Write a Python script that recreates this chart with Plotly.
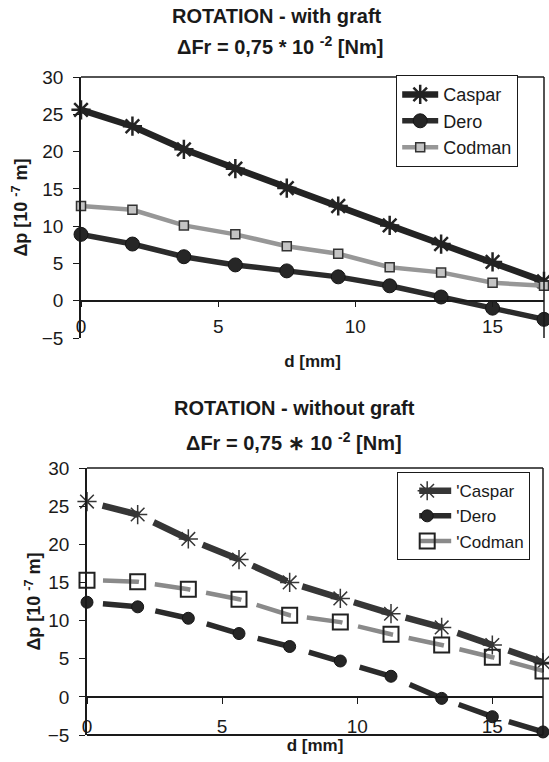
import plotly.graph_objects as go

# ---------------- data ----------------
d_mm = [0, 1.875, 3.75, 5.625, 7.5, 9.375, 11.25, 13.125, 15, 16.875]

with_caspar = [25.6, 23.4, 20.3, 17.7, 15.1, 12.7, 10.1, 7.6, 5.2, 2.6]
with_dero   = [8.9, 7.6, 5.9, 4.8, 4.0, 3.2, 2.0, 0.5, -1.0, -2.5]
with_codman = [12.7, 12.2, 10.1, 8.9, 7.3, 6.3, 4.5, 3.8, 2.4, 2.0]

without_caspar = [25.6, 23.9, 20.7, 18.0, 15.0, 12.9, 10.9, 9.1, 6.8, 4.5]
without_dero   = [12.4, 11.8, 10.3, 8.3, 6.6, 4.7, 2.7, -0.2, -2.6, -4.6]
without_codman = [15.3, 15.1, 14.1, 12.8, 10.7, 9.8, 8.2, 6.8, 5.2, 3.4]

series_names = ["Caspar", "Dero", "Codman"]
legend_names_bottom = ["'Caspar", "'Dero", "'Codman"]
y_ticks = [-5, 0, 5, 10, 15, 20, 25, 30]
x_ticks = [0, 5, 10, 15]
y_range = [-5, 30]
x_range = [0, 16.875]

titles_top = ["ROTATION - with graft", "\u0394Fr = 0,75 * 10 <sup>-2</sup> [Nm]"]
titles_bottom = ["ROTATION - without graft", "\u0394Fr = 0,75 \u2217 10 <sup>-2</sup> [Nm]"]
y_title = "\u0394p [10 <sup>-7</sup> m]"
x_title = "d [mm]"

# ---------------- layout geometry ----------------
W, H = 549, 762
FONT = "Liberation Sans, Arial, sans-serif"
INK = "#1a1a1a"

def px_x(p):
    return p / W

def px_y(p):
    return 1 - p / H

top_xdom = [px_x(81), px_x(544)]
top_ydom = [px_y(338), px_y(77)]
bot_xdom = [px_x(87), px_x(543)]
bot_ydom = [px_y(735), px_y(468)]

def zero_pos(dom):
    return dom[0] + (0 - y_range[0]) / (y_range[1] - y_range[0]) * (dom[1] - dom[0])

fig = go.Figure()

# ---- top chart (with graft) ----
style_top = [
    dict(line=dict(color="#232323", width=6.5),
         marker=dict(symbol="asterisk-open", size=16, line=dict(color="#151515", width=2.5))),
    dict(line=dict(color="#2b2b2b", width=5.5),
         marker=dict(symbol="circle", size=14, color="#262626", line=dict(color="#151515", width=1))),
    dict(line=dict(color="#979797", width=4.5),
         marker=dict(symbol="square", size=9, color="#c4c4c4", line=dict(color="#333333", width=1.5))),
]
for name, ys, st in zip(series_names, [with_caspar, with_dero, with_codman], style_top):
    fig.add_trace(go.Scatter(x=d_mm, y=ys, name=name, mode="lines+markers",
                             xaxis="x", yaxis="y", legend="legend", cliponaxis=False, **st))

# ---- bottom chart (without graft) ----
style_bot = [
    dict(line=dict(color="#363636", width=6.5, dash="0px,16px,38px,0px"),
         marker=dict(symbol="asterisk-open", size=16, line=dict(color="#222222", width=1.5))),
    dict(line=dict(color="#2b2b2b", width=5.5, dash="0px,16px,37px,0px"),
         marker=dict(symbol="circle", size=12, color="#262626", line=dict(color="#151515", width=1))),
    dict(line=dict(color="#8a8a8a", width=4.5, dash="0px,16px,36px,0px"),
         marker=dict(symbol="square-open", size=15, color="#222222", line=dict(color="#222222", width=2))),
]
for name, ys, st in zip(legend_names_bottom, [without_caspar, without_dero, without_codman], style_bot):
    fig.add_trace(go.Scatter(x=d_mm, y=ys, name=name, mode="lines+markers",
                             xaxis="x2", yaxis="y2", legend="legend2", cliponaxis=False, **st))

tickfont = dict(family=FONT, size=19, color=INK)
titlefont = dict(family=FONT, size=18, color=INK)

def xaxis_cfg(dom, ydom, label_standoff, standoff):
    return dict(domain=dom, range=x_range, tickvals=x_ticks, ticktext=[str(v) for v in x_ticks],
                anchor="free", position=zero_pos(ydom), automargin=False,
                showline=True, linecolor=INK, linewidth=1.5,
                ticks="outside", ticklen=6, tickcolor=INK, tickwidth=1.2,
                ticklabelstandoff=label_standoff,
                showgrid=False, zeroline=False, tickfont=tickfont,
                title=dict(text="<b>" + x_title + "</b>", font=dict(family=FONT, size=17, color=INK),
                           standoff=standoff))

def yaxis_cfg(dom, anchor_x, standoff):
    return dict(domain=dom, range=y_range, tickvals=y_ticks, anchor=anchor_x, automargin=False,
                showline=True, linecolor=INK, linewidth=1.5,
                ticks="outside", ticklen=6, tickcolor=INK, tickwidth=1.2,
                ticklabelstandoff=6,
                showgrid=False, zeroline=False, tickfont=tickfont,
                title=dict(text="<b>" + y_title + "</b>", font=titlefont, standoff=standoff))

legend_common = dict(xanchor="left", yanchor="top", bgcolor="white", bordercolor=INK,
                     borderwidth=1.2, tracegroupgap=0)

fig.update_layout(
    template="none",
    width=W, height=H,
    margin=dict(l=0, r=0, t=0, b=0, autoexpand=False),
    paper_bgcolor="white", plot_bgcolor="white",
    showlegend=True,
    xaxis=xaxis_cfg(top_xdom, top_ydom, 3, 18),
    yaxis=yaxis_cfg(top_ydom, "x", 9),
    xaxis2=xaxis_cfg(bot_xdom, bot_ydom, 7, 2),
    yaxis2=yaxis_cfg(bot_ydom, "x2", 2),
    legend=dict(x=px_x(396), y=px_y(75), itemwidth=36,
                font=dict(family=FONT, size=18, color=INK), **legend_common),
    legend2=dict(x=px_x(397), y=px_y(472), itemwidth=48,
                 font=dict(family=FONT, size=17, color=INK), **legend_common),
)

# plot-area frames (top & right for top chart; top, right & bottom for bottom chart)
frame = dict(color=INK, width=1.5)
fig.add_shape(type="line", xref="x domain", yref="y domain", x0=0, x1=1, y0=1, y1=1, line=frame)
fig.add_shape(type="line", xref="x domain", yref="y domain", x0=1, x1=1, y0=0, y1=1, line=frame)
fig.add_shape(type="line", xref="x2 domain", yref="y2 domain", x0=0, x1=1, y0=1, y1=1, line=frame)
fig.add_shape(type="line", xref="x2 domain", yref="y2 domain", x0=1, x1=1, y0=0, y1=1, line=frame)
fig.add_shape(type="line", xref="x2 domain", yref="y2 domain", x0=0, x1=1, y0=0, y1=0,
              line=dict(color=INK, width=2))

# chart titles
def add_title(text, cx, cy):
    fig.add_annotation(text="<b>" + text + "</b>", xref="paper", yref="paper",
                       x=px_x(cx), y=px_y(cy), xanchor="center", yanchor="middle",
                       showarrow=False, font=dict(family=FONT, size=20, color=INK))

add_title(titles_top[0], 277, 16)
add_title(titles_top[1], 280, 45)
add_title(titles_bottom[0], 294, 408)
add_title(titles_bottom[1], 294, 441)

fig.write_html("out.html", config={"displayModeBar": False},
               post_script="document.body.style.margin='0';document.body.style.overflow='hidden';")
